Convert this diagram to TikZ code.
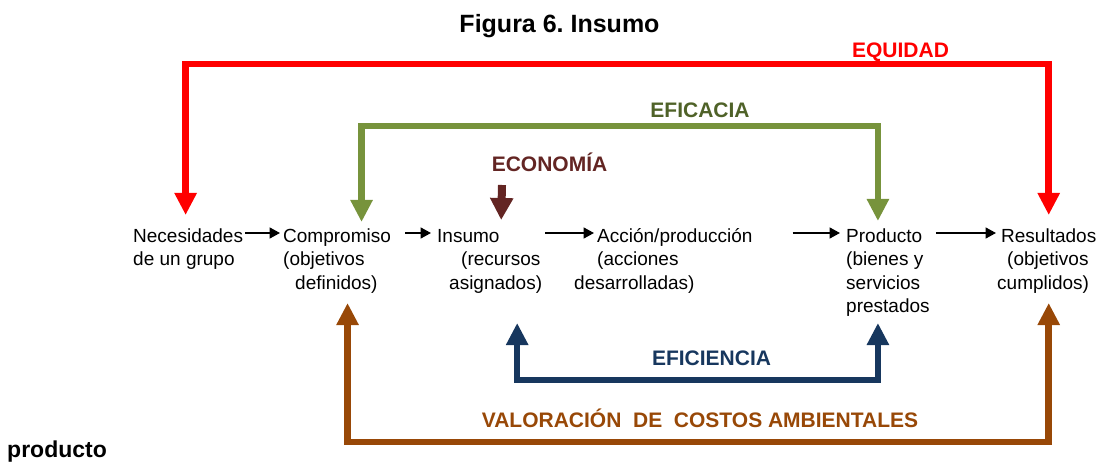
\documentclass[tikz,border=0pt]{standalone}
\usepackage{fontspec}
\setmainfont{Liberation Sans}
\usetikzlibrary{arrows.meta}
\definecolor{equidad}{HTML}{FF0000}
\definecolor{eficacia}{HTML}{77933C}
\definecolor{eficaciatxt}{HTML}{4F6228}
\definecolor{economia}{HTML}{632523}
\definecolor{eficiencia}{HTML}{17375E}
\definecolor{costos}{HTML}{984807}

\begin{document}
\begin{tikzpicture}[x=1pt,y=-1pt,
	txt/.style={anchor=base west,align=left,inner sep=0pt,font=\fontsize{19}{23.5}\selectfont},
	lbl/.style={anchor=base,inner sep=0pt,font=\fontsize{21}{25}\selectfont\bfseries},
	flecha/.style={line width=1.7pt,-{Triangle[length=10.5pt,width=11pt]}},
	gruesa/.style={line width=6.5pt,{Triangle[length=22pt,width=21pt]}-{Triangle[length=22pt,width=21pt]}}
	]
\useasboundingbox (0,0) rectangle (1102,462);

\node[anchor=base,inner sep=0pt,font=\fontsize{25}{30}\selectfont\bfseries] (titulo) at (559.5,33) {Figura 6.\ Insumo};

% fila de conceptos (base = ultima linea)
\node[txt] (nec) at (133,265.5) {Necesidades\\de un grupo};
\node[txt] (comp) at (283,289) {Compromiso\\(objetivos\\\hspace*{12pt}definidos)};
\node[txt] (ins) at (437,289) {Insumo\\\hspace*{24pt}(recursos\\\hspace*{12pt}asignados)};
\node[txt] (acc) at (574,289) {\hspace*{23pt}Acci\'on/producci\'on\\\hspace*{23pt}(acciones\\desarrolladas)};
\node[txt] (prod) at (846,312.5) {Producto\\(bienes y\\servicios\\prestados};
\node[txt] (res) at (997,289) {\hspace*{4pt}Resultados\\\hspace*{10pt}(objetivos\\cumplidos)};

\draw[flecha] ([shift={(2,-32.5)}]nec.base east) -- ([shift={(-3,-56)}]comp.base west);
\draw[flecha] ([shift={(14,-56)}]comp.base east) -- ([shift={(-6,-56)}]ins.base west);
\draw[flecha] ([shift={(3,-56)}]ins.base east) -- ([shift={(20,-56)}]acc.base west);
\draw[flecha] ([shift={(40,-56)}]acc.base east) -- ([shift={(-6,-79.5)}]prod.base west);
\draw[flecha] ([shift={(6,-79.5)}]prod.base east) -- ([shift={(-1,-56)}]res.base west);

% etiquetas
\node[lbl,text=equidad] (equ) at (900.5,58) {EQUIDAD};
\node[lbl,text=eficaciatxt] (efa) at (700,118) {EFICACIA};
\node[lbl,text=economia] (eco) at (549.5,172) {ECONOM\'IA};
\node[lbl,text=eficiencia] (efi) at (711.5,365) {EFICIENCIA};
\node[lbl,text=costos] (val) at (700,427) {VALORACI\'ON\ \ DE\ \ COSTOS AMBIENTALES};

% flechas gruesas
\draw[gruesa,equidad] ([shift={(-2.5,-50.5)}]nec.base) -- ++(0,-151) -| ([shift={(2,-74)}]res.base);
\draw[gruesa,eficacia] ([shift={(24.5,-67)}]comp.base) -- ++(0,-96) -| ([shift={(-10,-91.5)}]prod.base);
\draw[gruesa,eficiencia] ([shift={(27.5,34)}]ins.base) -- ++(0,57) -| ([shift={(-10,10.5)}]prod.base);
\draw[gruesa,costos] ([shift={(10.5,14)}]comp.base) -- ++(0,139) -| ([shift={(2,14)}]res.base);
\draw[economia,line width=8pt,-{Triangle[length=22pt,width=22pt]}] ([shift={(-47.5,13)}]eco.base) -- ([shift={(11.5,-69)}]ins.base);

\node[anchor=base west,inner sep=0pt,font=\fontsize{23}{27}\selectfont\bfseries] (pie) at (7,457) {producto};
\end{tikzpicture}
\end{document}
